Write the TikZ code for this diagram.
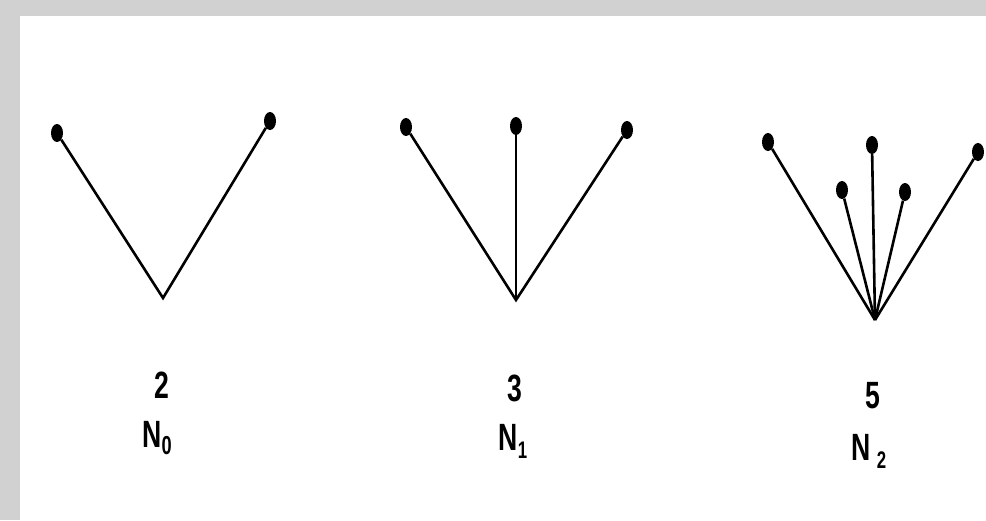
\documentclass[tikz,border=0pt]{standalone}
\usepackage{fontspec}
\usetikzlibrary{shapes.geometric}
\newfontfamily\lblfont[FakeStretch=0.7]{Liberation Sans}
\tikzset{
  leaf/.style={ellipse,fill=black,inner sep=0pt,minimum width=12pt,minimum height=18pt},
  edge/.style={line width=2.6pt},
  lbl/.style={font=\lblfont\bfseries\fontsize{38}{42}\selectfont,inner sep=0pt}
}
\begin{document}
\begin{tikzpicture}[x=1pt,y=-1pt]
  \useasboundingbox (0,0) rectangle (986,520);
  \fill[black!18] (0,0) rectangle (986,520);
  \fill[white] (20,16) rectangle (986,520);
  % N_0
  \coordinate (r0) at (163,298);
  \node[leaf] (a1) at (57,133) {};
  \node[leaf] (a2) at (270,121) {};
  \draw[edge] (a1) -- (r0) -- (a2);
  \node[lbl] (c0) at (162,385) {2};
  \node[lbl] (n0) at (157,438) {N\raisebox{-7pt}{\fontsize{26}{28}\selectfont 0}};
  % N_1
  \coordinate (r1) at (516,300);
  \node[leaf] (b1) at (406,127) {};
  \node[leaf] (b2) at (516,126) {};
  \node[leaf] (b3) at (627,130) {};
  \draw[edge] (b1) -- (r1) -- (b3);
  \draw[edge] (b2) -- (r1);
  \node[lbl] (c1) at (515,388) {3};
  \node[lbl] (n1) at (513,441) {N\raisebox{-8pt}{\fontsize{24}{26}\selectfont 1}};
  % N_2
  \coordinate (r2) at (875,320);
  \node[leaf] (d1) at (768,142) {};
  \node[leaf] (d2) at (842,190) {};
  \node[leaf] (d3) at (872,145) {};
  \node[leaf] (d4) at (905,192) {};
  \node[leaf] (d5) at (978,152) {};
  \foreach \t in {d1,d2,d3,d4,d5}
    \draw[edge] (\t) -- (r2);
  \node[lbl] (c2) at (873,396) {5};
  \node[lbl] (n2) at (869,451) {N\hspace{6pt}\raisebox{-8pt}{\fontsize{24}{26}\selectfont 2}};
\end{tikzpicture}
\end{document}
